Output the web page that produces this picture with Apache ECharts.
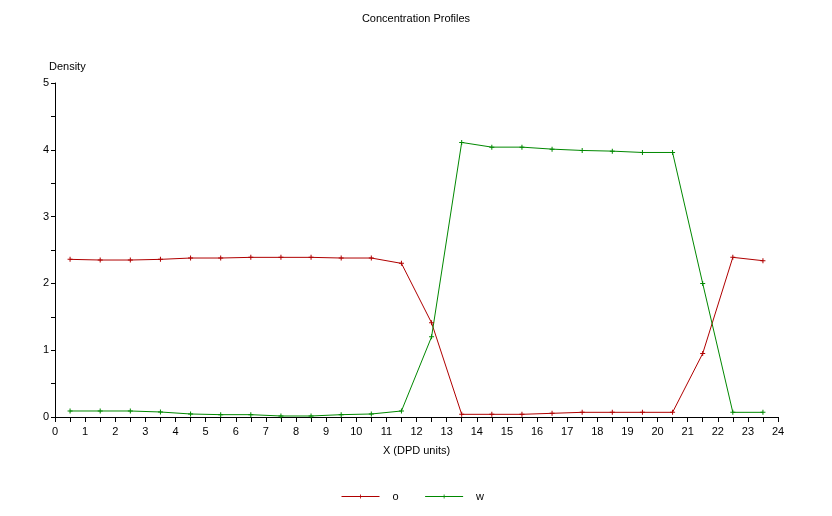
<!DOCTYPE html>
<html><head><meta charset="utf-8">
<script src="https://cdn.jsdelivr.net/npm/echarts@6/dist/echarts.min.js"></script>
<style>html,body{margin:0;padding:0;background:#fff}#c{width:832px;height:516px}</style>
</head><body><div id="c"></div>
<script>
const xValues = [0.5,1.5,2.5,3.5,4.5,5.5,6.5,7.5,8.5,9.5,10.5,11.5,12.5,13.5,14.5,15.5,16.5,17.5,18.5,19.5,20.5,21.5,22.5,23.5];
const oValues = [2.36,2.35,2.35,2.36,2.38,2.38,2.39,2.39,2.39,2.38,2.38,2.30,1.41,0.04,0.04,0.04,0.055,0.07,0.07,0.07,0.07,0.95,2.39,2.34];
const wValues = [0.09,0.09,0.09,0.075,0.045,0.035,0.035,0.015,0.015,0.035,0.045,0.09,1.20,4.11,4.04,4.04,4.01,3.99,3.98,3.96,3.96,2.00,0.07,0.07];
const seriesNames = ['o','w'];
const titleText = 'Concentration Profiles';
const xName = 'X (DPD units)';
const yName = 'Density';

const font = 'Liberation Sans';
const plus = 'path://M2,0H3V2H5V3H3V5H2V3H0V2H2Z';
const colors = ['#b00000', '#008800'];
const chart = echarts.init(document.getElementById('c'), null, {renderer:'canvas'});
function mk(name, vals, color){
  return {
    name, type:'line', data: xValues.map((x,i)=>[x, vals[i]]),
    symbol: plus, symbolSize: 5, showAllSymbol: true,
    lineStyle:{color, width:1}, itemStyle:{color},
    emphasis:{disabled:true}, animation:false
  };
}
chart.setOption({
  backgroundColor:'#fff',
  animation:false,
  title:{text:titleText, left:'center', top:8,
    textStyle:{fontFamily:font, fontSize:11, fontWeight:'normal', color:'#000'}},
  legend:{bottom:9, left:336, itemWidth:38, itemHeight:5, itemGap:26,
    lineStyle:{width:1},
    textStyle:{fontFamily:font, fontSize:11, color:'#000', padding:[0,0,0,8]},
    data:seriesNames},
  grid:{left:55, right:54, top:83, bottom:99},
  xAxis:{type:'value', min:0, max:24, interval:1,
    name:xName, nameLocation:'middle', nameGap:28,
    nameTextStyle:{fontFamily:font, fontSize:11, color:'#000'},
    axisLine:{lineStyle:{color:'#000', width:1}},
    axisTick:{length:5, lineStyle:{color:'#000'}},
    minorTick:{show:true, splitNumber:2, length:5, lineStyle:{color:'#000'}},
    axisLabel:{fontFamily:font, fontSize:11, color:'#000', margin:9},
    splitLine:{show:false}},
  yAxis:{type:'value', min:0, max:5, interval:1,
    name:yName, nameLocation:'end', nameGap:11,
    nameTextStyle:{fontFamily:font, fontSize:11, color:'#000', align:'left', padding:[0,0,0,-6]},
    axisLine:{show:true, lineStyle:{color:'#000', width:1}},
    axisTick:{show:true, length:4, lineStyle:{color:'#000'}},
    minorTick:{show:true, splitNumber:2, length:4, lineStyle:{color:'#000'}},
    axisLabel:{fontFamily:font, fontSize:11, color:'#000', margin:6},
    splitLine:{show:false}},
  series:[mk(seriesNames[0], oValues, colors[0]), mk(seriesNames[1], wValues, colors[1])]
});
</script></body></html>
